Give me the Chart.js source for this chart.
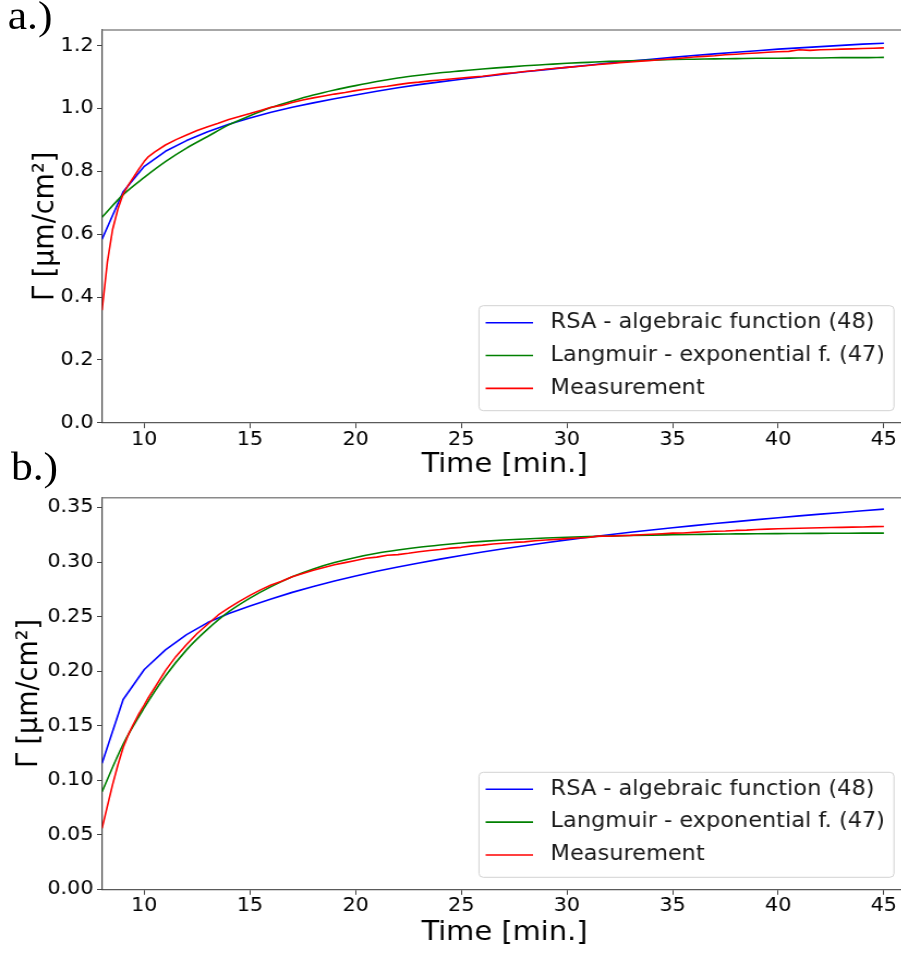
<!DOCTYPE html>
<html>
<head>
<meta charset="utf-8">
<title>Adsorption kinetics</title>
<script src="https://cdn.jsdelivr.net/npm/chart.js@4.4.1/dist/chart.umd.min.js"></script>
<style>
  html, body { margin: 0; padding: 0; background: #fff; overflow: hidden; }
  body { width: 901px; height: 953px; position: relative; }
  /* whole figure is drawn narrow and widened a little */
  #figure { position: absolute; left: 0; top: 0; width: 832px; height: 953px; transform: scaleX(1.09); transform-origin: 0 0; }
  #figure canvas { position: absolute; left: 0; }
  #chartA { top: 0; }
  #chartB { top: 478px; }
  .panel-tag { position: absolute; font-family: "Liberation Serif", "Times New Roman", serif; font-size: 40px; line-height: 40px; color: #000; }
</style>
</head>
<body>
<div id="figure">
  <canvas id="chartA" width="832" height="484"></canvas>
  <canvas id="chartB" width="832" height="475"></canvas>
  <div class="panel-tag" style="left:7px; top:-4px">a.)</div>
  <div class="panel-tag" style="left:10px; top:447px">b.)</div>
</div>

<script>
// ---- data ----
const seriesLabels = ['RSA - algebraic function (48)', 'Langmuir - exponential f. (47)', 'Measurement'];
const xTitle = 'Time [min.]';
const yTitle = 'Γ [µm/cm²]';

const xTicks = [10, 15, 20, 25, 30, 35, 40, 45];
const yTicksA = [0, 0.2, 0.4, 0.6, 0.8, 1.0, 1.2];
const yTicksB = [0, 0.05, 0.1, 0.15, 0.2, 0.25, 0.3, 0.35];

// model curves, one value per minute
const minutes = [8, 9, 10, 11, 12, 13, 14, 15, 16, 17, 18, 19, 20, 21, 22, 23, 24, 25, 26,
  27, 28, 29, 30, 31, 32, 33, 34, 35, 36, 37, 38, 39, 40, 41, 42, 43, 44, 45];

const rsaA = [0.584, 0.735, 0.816, 0.864, 0.898, 0.926, 0.950, 0.970, 0.988, 1.004, 1.018, 1.031, 1.043,
  1.055, 1.066, 1.076, 1.085, 1.093, 1.101, 1.109, 1.117, 1.124, 1.131, 1.138, 1.145, 1.151, 1.157,
  1.163, 1.169, 1.174, 1.179, 1.184, 1.189, 1.193, 1.197, 1.201, 1.205, 1.208];
const langA = [0.654, 0.726, 0.781, 0.831, 0.874, 0.911, 0.948, 0.977, 1.003, 1.024, 1.043, 1.059, 1.073,
  1.086, 1.097, 1.106, 1.114, 1.120, 1.126, 1.131, 1.136, 1.140, 1.144, 1.147, 1.150, 1.152, 1.154,
  1.156, 1.157, 1.158, 1.159, 1.160, 1.160, 1.161, 1.161, 1.162, 1.162, 1.163];

const rsaB = [0.1156, 0.174, 0.2015, 0.2195, 0.2335, 0.2445, 0.2528, 0.2598, 0.2662, 0.2722, 0.2776,
  0.2826, 0.2872, 0.2915, 0.2955, 0.2992, 0.3027, 0.306, 0.3092, 0.3122, 0.315, 0.3177, 0.3203, 0.3228,
  0.3251, 0.3273, 0.3294, 0.3314, 0.3334, 0.3353, 0.3371, 0.3389, 0.3406, 0.3423, 0.3439, 0.3455, 0.347, 0.3485];
const langB = [0.0895, 0.133, 0.1665, 0.1955, 0.2195, 0.2385, 0.2545, 0.267, 0.2775, 0.2865, 0.2937,
  0.2995, 0.3042, 0.308, 0.311, 0.3136, 0.3157, 0.3175, 0.319, 0.3202, 0.3212, 0.322, 0.3227, 0.3233,
  0.3238, 0.3243, 0.3247, 0.325, 0.3253, 0.3256, 0.3258, 0.326, 0.3261, 0.3262, 0.3263, 0.3264, 0.3265, 0.3265];

// measured series, denser sampling
const measTime = [8, 8.25, 8.5, 8.75, 9, 9.25, 9.5, 9.75, 10, 10.2,
  10.5, 11, 11.5, 12, 12.5, 13, 13.5, 14, 14.5, 15,
  15.5, 16, 16.5, 17, 17.5, 18, 18.5, 19, 19.5, 20,
  20.5, 21, 21.5, 22, 22.5, 23, 23.5, 24, 24.5, 25,
  25.5, 26, 26.5, 27, 27.5, 28, 28.5, 29, 29.5, 30,
  30.5, 31, 31.5, 32, 32.5, 33, 33.5, 34, 34.5, 35,
  35.5, 36, 36.5, 37, 37.5, 38, 38.5, 39, 39.5, 40,
  40.5, 41, 41.5, 42, 42.5, 43, 43.5, 44, 44.5, 45];

const measA = [0.358, 0.510, 0.615, 0.680, 0.728, 0.757, 0.782, 0.808, 0.832, 0.847,
  0.862, 0.884, 0.901, 0.916, 0.930, 0.942, 0.953, 0.965, 0.975, 0.984,
  0.994, 1.004, 1.010, 1.019, 1.027, 1.034, 1.040, 1.046, 1.051, 1.057,
  1.062, 1.067, 1.071, 1.076, 1.081, 1.084, 1.088, 1.091, 1.094, 1.097,
  1.100, 1.103, 1.107, 1.111, 1.114, 1.118, 1.121, 1.125, 1.128, 1.131,
  1.134, 1.137, 1.140, 1.143, 1.146, 1.148, 1.151, 1.153, 1.156, 1.158,
  1.161, 1.164, 1.166, 1.168, 1.171, 1.173, 1.175, 1.177, 1.179, 1.181,
  1.182, 1.187, 1.185, 1.187, 1.188, 1.189, 1.190, 1.191, 1.192, 1.193];

const measB = [0.056, 0.076, 0.096, 0.114, 0.130, 0.142, 0.152, 0.161, 0.169, 0.176,
  0.185, 0.2005, 0.2135, 0.2245, 0.2345, 0.243, 0.2515, 0.258, 0.264, 0.2695,
  0.2745, 0.279, 0.2825, 0.2865, 0.2895, 0.2925, 0.295, 0.2975, 0.2995, 0.3015,
  0.3035, 0.3045, 0.3062, 0.3068, 0.308, 0.3095, 0.3106, 0.3115, 0.3128, 0.3135,
  0.3148, 0.3155, 0.3165, 0.3172, 0.318, 0.3185, 0.3195, 0.3202, 0.3208, 0.3215,
  0.322, 0.3225, 0.3238, 0.3236, 0.3242, 0.3245, 0.325, 0.3255, 0.326, 0.3265,
  0.3266, 0.3272, 0.3278, 0.3282, 0.3285, 0.329, 0.3293, 0.3298, 0.3302, 0.3305,
  0.3307, 0.331, 0.3312, 0.3315, 0.3317, 0.3318, 0.332, 0.3322, 0.3325, 0.3326];

// ---- drawing ----
const FONT = '"DejaVu Sans", sans-serif';
const AXIS = '#444';

function pairs(xs, ys) {
  return xs.map(function (x, i) { return { x: x, y: ys[i] }; });
}

// top frame line + boxed legend in the lower right corner
const frameAndLegend = {
  id: 'frameAndLegend',
  afterDraw: function (chart) {
    const ctx = chart.ctx;
    const a = chart.chartArea;
    ctx.save();
    ctx.strokeStyle = '#8a8a8a';
    ctx.lineWidth = 1.4;
    ctx.beginPath();
    ctx.moveTo(a.left, a.top);
    ctx.lineTo(a.right, a.top);
    ctx.stroke();

    ctx.font = '20.6px ' + FONT;
    const sets = chart.data.datasets;
    const textW = Math.max.apply(null, sets.map(function (d) { return ctx.measureText(d.label).width; }));
    const w = 6.1 + 43.5 + 16.1 + textW + 8.3;
    const h = 105;
    const x = a.right - 11.8 - w;
    const y = a.bottom - 12 - h;
    ctx.beginPath();
    ctx.roundRect(x, y, w, h, 4);
    ctx.fillStyle = 'rgba(255,255,255,0.8)';
    ctx.fill();
    ctx.strokeStyle = '#d2d2d2';
    ctx.lineWidth = 1;
    ctx.stroke();

    const rows = [17, 49.8, 82.7];
    sets.forEach(function (d, i) {
      const ry = y + rows[i];
      ctx.strokeStyle = d.borderColor;
      ctx.lineWidth = d.borderWidth;
      ctx.beginPath();
      ctx.moveTo(x + 6.1, ry);
      ctx.lineTo(x + 49.6, ry);
      ctx.stroke();
      ctx.fillStyle = '#1a1a1a';
      ctx.textAlign = 'left';
      ctx.textBaseline = 'middle';
      ctx.fillText(d.label, x + 65.7, ry);
    });
    ctx.restore();
  }
};

function buildChart(id, cfg) {
  return new Chart(document.getElementById(id), {
    type: 'line',
    data: {
      datasets: [
        { label: seriesLabels[0], data: pairs(minutes, cfg.rsa), borderColor: '#0000ff', borderWidth: 1.6, tension: 0, order: 3 },
        { label: seriesLabels[1], data: pairs(minutes, cfg.lang), borderColor: '#008000', borderWidth: 1.6, cubicInterpolationMode: 'monotone', order: 2 },
        { label: seriesLabels[2], data: pairs(measTime, cfg.meas), borderColor: '#ff0000', borderWidth: 1.6, tension: 0, order: 1 }
      ]
    },
    options: {
      responsive: false,
      animation: false,
      devicePixelRatio: 1,
      layout: { padding: { top: cfg.padTop, left: 0, right: 0, bottom: 0 } },
      elements: {
        point: { radius: 0, hoverRadius: 0 },
        line: { borderJoinStyle: 'round', borderCapStyle: 'butt' }
      },
      plugins: { legend: { display: false }, tooltip: { enabled: false } },
      scales: {
        x: {
          type: 'linear',
          min: 8,
          max: 46.09,
          afterBuildTicks: function (s) { s.ticks = xTicks.map(function (v) { return { value: v }; }); },
          afterFit: function (s) { s.height = cfg.xAxisH; },
          ticks: { color: '#000', font: { family: FONT, size: 19 }, padding: 0, autoSkip: false, maxRotation: 0 },
          grid: { drawOnChartArea: false, drawTicks: true, tickLength: 5.5, color: AXIS },
          border: { display: true, color: '#5a5a5a', width: 1.2 },
          title: { display: true, text: xTitle, color: '#000', font: { family: FONT, size: 26.5 }, padding: { top: 0, bottom: cfg.xTitlePad } }
        },
        y: {
          min: 0,
          max: cfg.yMax,
          afterBuildTicks: function (s) { s.ticks = cfg.yTicks.map(function (v) { return { value: v }; }); },
          afterFit: function (s) { s.width = 93.6; },
          ticks: {
            color: '#000', font: { family: FONT, size: 19 }, padding: 3.2,
            callback: function (v) { return Number(v).toFixed(cfg.decimals); }
          },
          grid: { drawOnChartArea: false, drawTicks: true, tickLength: 4.6, color: AXIS },
          border: { display: true, color: AXIS, width: 1.2 },
          title: { display: true, text: yTitle, color: '#000', font: { family: FONT, size: 27 }, padding: { top: cfg.yTitlePad, bottom: 0 } }
        }
      }
    },
    plugins: [frameAndLegend]
  });
}

buildChart('chartA', {
  rsa: rsaA, lang: langA, meas: measA,
  yMax: 1.25, yTicks: yTicksA, decimals: 1,
  padTop: 30, xAxisH: 61.3, yTitlePad: 25.6, xTitlePad: 3.1
});

buildChart('chartB', {
  rsa: rsaB, lang: langB, meas: measB,
  yMax: 0.359, yTicks: yTicksB, decimals: 2,
  padTop: 19.7, xAxisH: 63.7, yTitlePad: 11, xTitlePad: 4
});
</script>
</body>
</html>
